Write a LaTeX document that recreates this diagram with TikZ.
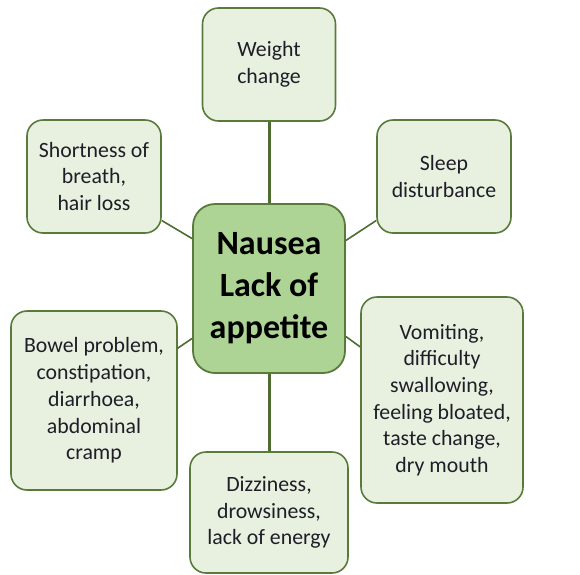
\documentclass[tikz,border=0pt]{standalone}
\usepackage{fontspec}
\setmainfont{Carlito}
\definecolor{boxline}{HTML}{5A7A3C}
\definecolor{linkline}{HTML}{4E6B30}
\definecolor{mainfill}{HTML}{ADD495}
\definecolor{leaffill}{HTML}{E8F1DF}
\definecolor{txt}{HTML}{1E1E28}
\begin{document}
\begin{tikzpicture}[x=1pt,y=-1pt,
  leaf/.style={draw=boxline, line width=1.6pt, fill=leaffill, rounded corners=16pt,
    align=center, text=txt, inner sep=0pt,
    font=\fontsize{21.8}{26.7}\selectfont},
  hub/.style={draw=boxline, line width=1.8pt, fill=mainfill, rounded corners=22pt,
    align=center, text=black, inner sep=0pt,
    font=\fontsize{34}{42}\selectfont\bfseries},
  thick link/.style={draw=linkline, line width=3pt},
  thin link/.style={draw=linkline, line width=1.6pt}]
\useasboundingbox (0,0) rectangle (580,574);
\node[hub, minimum width=152pt, minimum height=169pt] (cent) at (269,288.5) {Nausea\\Lack of\\appetite};
\node[leaf, minimum width=133pt, minimum height=113pt] (weight) at (269,64.5) {Weight\\change};
\node[leaf, minimum width=134pt, minimum height=113pt] (short) at (94,176.5) {Shortness of\\breath,\\hair loss};
\node[leaf, minimum width=134pt, minimum height=113pt] (sleep) at (444,176.5) {Sleep\\disturbance};
\node[leaf, minimum width=166pt, minimum height=179pt] (bowel) at (94,400.5) {Bowel problem,\\constipation,\\diarrhoea,\\abdominal\\cramp};
\node[leaf, minimum width=162pt, minimum height=206pt] (vomit) at (442,400) {Vomiting,\\difficulty\\swallowing,\\feeling bloated,\\taste change,\\dry mouth};
\node[leaf, minimum width=158pt, minimum height=121pt] (dizzy) at (269,512.5) {Dizziness,\\drowsiness,\\lack of energy};
\draw[thick link] (weight.south) -- (cent.north);
\draw[thick link] (cent.south) -- (dizzy.north);
\draw[thin link] (short.-33) -- (cent.147.5);
\draw[thin link] (sleep.213) -- (cent.32.5);
\draw[thin link] (bowel.32) -- (cent.213);
\draw[thin link] (vomit.147) -- (cent.-32.5);
\end{tikzpicture}
\end{document}
